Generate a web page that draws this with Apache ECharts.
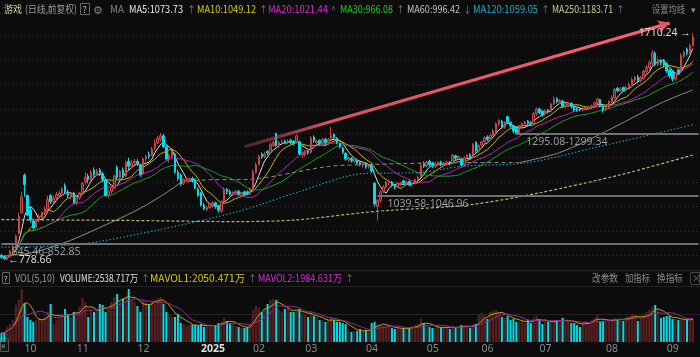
<!DOCTYPE html>
<html><head><meta charset="utf-8">
<script src="https://cdn.jsdelivr.net/npm/echarts@6/dist/echarts.min.js"></script>
<style>html,body{margin:0;padding:0;background:#0c0c0c;}#c{width:700px;height:357px;}</style>
</head><body><div id="c"></div>
<script>
// ---- trading calendar (categories) ----
const tradingDays = [
 ['2024-09',[19,20,23,24,25,26,27,30]],
 ['2024-10',[8,9,10,11,14,15,16,17,18,21,22,23,24,25,28,29,30,31]],
 ['2024-11',[1,4,5,6,7,8,11,12,13,14,15,18,19,20,21,22,25,26,27,28,29]],
 ['2024-12',[2,3,4,5,6,9,10,11,12,13,16,17,18,19,20,23,24,25,26,27,30,31]],
 ['2025-01',[2,3,6,7,8,9,10,13,14,15,16,17,20,21,22,23,24,27]],
 ['2025-02',[5,6,7,10,11,12,13,14,17,18,19,20,21,24,25,26,27,28]],
 ['2025-03',[3,4,5,6,7,10,11,12,13,14,17,18,19,20,21,24,25,26,27,28,31]],
 ['2025-04',[1,2,3,7,8,9,10,11,14,15,16,17,18,21,22,23,24,25,28,29,30]],
 ['2025-05',[6,7,8,9,12,13,14,15,16,19,20,21,22,23,26,27,28,29,30]],
 ['2025-06',[3,4,5,6,9,10,11,12,13,16,17,18,19,20,23,24,25,26,27,30]],
 ['2025-07',[1,2,3,4,7,8,9,10,11,14,15,16,17,18,21,22,23,24,25,28,29,30,31]],
 ['2025-08',[1,4,5,6,7,8,11,12,13,14,15,18,19,20,21,22,25,26,27,28,29]],
 ['2025-09',[1,2,3,4,5,8,9,10,11,12]]
];
// ---- daily candles: [open, close, low, high] ----
const ohlc = [
[800,792,785,805],[795,786,781,798],[784,792,778.66,796],[795,818,792,822],[820,835,815,848],
[838,880,832,885],[890,960,885,975],[975,1040,970,1060],[1128,1090,1040,1135],[1045,965,960,1050],
[985,945,935,1000],[940,912,905,950],[915,945,910,950],[945,960,935,968],[955,975,950,980],
[975,990,965,1000],[990,1030,985,1045],[1045,1020,1010,1050],[1020,1035,1012,1045],[1035,1050,1025,1060],
[1045,1055,1038,1065],[1055,1072,1050,1080],[1085,1060,1050,1095],[1060,1045,1035,1068],[1040,1050,1030,1058],
[1055,1015,1010,1060],[1015,1035,1005,1042],[1035,1055,1028,1060],[1055,1095,1052,1100],[1100,1120,1090,1140],
[1125,1110,1095,1135],[1110,1140,1105,1150],[1150,1130,1120,1160],[1130,1145,1125,1155],[1150,1135,1125,1158],
[1135,1110,1100,1140],[1110,1045,1040,1115],[1045,1060,1035,1070],[1060,1080,1050,1090],[1075,1125,1070,1130],
[1160,1120,1110,1168],[1118,1145,1110,1150],[1150,1130,1120,1160],[1125,1180,1120,1188],[1185,1165,1150,1200],
[1165,1180,1158,1190],[1180,1185,1170,1195],[1185,1175,1165,1195],[1170,1130,1122,1175],[1135,1195,1130,1200],
[1195,1205,1185,1212],[1212,1205,1195,1225],[1210,1235,1205,1245],[1240,1260,1230,1275],[1260,1280,1255,1290],
[1275,1290,1265,1302],[1290,1245,1240,1298],[1245,1195,1188,1250],[1195,1210,1180,1218],[1205,1225,1200,1232],
[1215,1140,1135,1220],[1140,1115,1105,1150],[1130,1092,1085,1135],[1095,1110,1088,1115],[1105,1112,1098,1118],
[1108,1114,1100,1120],[1115,1105,1098,1122],[1110,1075,1070,1115],[1072,1045,1040,1078],[1055,1005,1000,1060],
[1005,990,985,1015],[988,995,980,1002],[995,1012,990,1018],[1005,1015,995,1022],[1015,1000,990,1020],
[1000,985,975,1005],[980,1020,975,1025],[1022,1070,1018,1078],[1070,1060,1050,1076],[1062,1050,1045,1070],
[1050,1058,1042,1062],[1058,1060,1050,1068],[1062,1050,1045,1068],[1050,1055,1040,1060],[1060,1048,1042,1065],
[1060,1052,1045,1066],[1050,1072,1048,1078],[1080,1140,1075,1152],[1140,1170,1135,1180],[1172,1205,1168,1212],
[1215,1205,1195,1222],[1205,1215,1198,1225],[1225,1220,1210,1232],[1220,1255,1215,1262],[1250,1262,1245,1270],
[1300,1250,1245,1302],[1248,1262,1240,1268],[1260,1265,1250,1275],[1268,1262,1255,1275],[1262,1268,1255,1275],
[1270,1262,1255,1278],[1268,1258,1250,1272],[1262,1290,1258,1296],[1265,1215,1210,1270],[1212,1220,1200,1226],
[1215,1225,1205,1232],[1228,1220,1212,1232],[1222,1280,1218,1288],[1285,1270,1262,1292],[1262,1268,1255,1275],
[1270,1258,1250,1275],[1258,1275,1252,1280],[1275,1262,1250,1282],[1262,1275,1258,1282],[1278,1290,1270,1327],
[1295,1282,1275,1300],[1280,1262,1255,1285],[1258,1245,1238,1262],[1240,1222,1215,1245],[1218,1195,1188,1222],
[1192,1198,1182,1205],[1198,1188,1180,1202],[1185,1192,1178,1198],[1190,1178,1172,1195],[1180,1172,1165,1185],
[1170,1180,1160,1185],[1178,1162,1155,1182],[1162,1168,1155,1172],[1165,1145,1140,1170],[1095,1010,1000,1100],
[1000,1025,942,1030],[1025,1060,1015,1068],[1062,1080,1055,1088],[1080,1100,1075,1105],[1098,1105,1088,1110],
[1100,1085,1080,1105],[1085,1080,1070,1090],[1082,1095,1078,1100],[1092,1096,1085,1102],[1105,1095,1088,1110],
[1095,1100,1088,1106],[1102,1088,1082,1108],[1088,1095,1082,1100],[1095,1110,1090,1115],[1110,1120,1102,1126],
[1122,1168,1118,1180],[1175,1165,1158,1185],[1168,1182,1160,1188],[1185,1172,1165,1192],[1178,1165,1158,1183],
[1165,1172,1158,1178],[1170,1180,1165,1186],[1182,1170,1165,1188],[1170,1178,1162,1182],[1175,1182,1168,1188],
[1182,1175,1168,1186],[1178,1210,1175,1215],[1208,1198,1190,1212],[1198,1205,1192,1210],[1195,1170,1165,1200],
[1172,1200,1168,1205],[1200,1210,1195,1215],[1212,1200,1195,1218],[1200,1255,1198,1260],[1262,1228,1220,1268],
[1228,1250,1222,1255],[1252,1265,1245,1270],[1265,1282,1260,1288],[1285,1275,1268,1292],[1278,1292,1272,1298],
[1292,1310,1288,1318],[1305,1340,1300,1345],[1338,1352,1330,1358],[1350,1325,1318,1355],[1325,1345,1318,1350],
[1368,1345,1340,1372],[1345,1330,1322,1350],[1330,1310,1300,1335],[1320,1299,1295.08,1325],[1300,1330,1296,1335],
[1328,1340,1320,1345],[1338,1345,1330,1352],[1350,1340,1332,1355],[1345,1338,1330,1350],[1340,1380,1335,1388],
[1380,1400,1372,1406],[1400,1385,1378,1405],[1390,1375,1368,1395],[1378,1392,1372,1398],[1395,1388,1380,1400],
[1390,1420,1385,1425],[1420,1440,1415,1450],[1442,1430,1422,1448],[1430,1435,1420,1440],[1432,1410,1405,1438],
[1410,1418,1402,1424],[1415,1422,1408,1428],[1422,1410,1402,1428],[1410,1395,1388,1414],[1400,1395,1388,1405],
[1402,1396,1390,1408],[1396,1402,1390,1408],[1400,1405,1394,1410],[1402,1408,1396,1414],[1405,1412,1398,1418],
[1410,1425,1405,1430],[1422,1440,1418,1446],[1438,1412,1408,1442],[1410,1395,1385,1415],[1398,1405,1390,1410],
[1405,1430,1400,1435],[1428,1448,1422,1455],[1445,1480,1440,1486],[1485,1475,1468,1490],[1475,1482,1468,1490],
[1488,1475,1470,1492],[1478,1488,1472,1495],[1488,1500,1480,1508],[1495,1520,1490,1528],[1518,1530,1510,1536],
[1532,1515,1505,1540],[1515,1528,1508,1535],[1525,1555,1520,1560],[1552,1570,1545,1580],[1568,1590,1560,1598],
[1585,1630,1580,1641],[1628,1582,1575,1635],[1582,1600,1575,1608],[1600,1588,1578,1605],[1600,1580,1570,1605],
[1585,1555,1548,1592],[1560,1535,1525,1565],[1555,1522,1512,1560],[1522,1545,1515,1550],[1560,1548,1540,1565],
[1555,1620,1550,1628],[1615,1632,1608,1640],[1645,1630,1620,1652],[1632,1660,1625,1668],[1660,1695,1655,1710.24]
];
// ---- volume (万) ----
const volumes = [
720,800,1200,1440,1760,2960,3360,4240,3120,2000, 1760,1600,1760,1920,1840,2000,2400,3040,1440,1760,
1920,2240,2640,2240,1920,2400,2400,2800,3520,3200, 2000,2560,2400,2640,3040,2960,2400,2800,3200,3600,
3840,3200,3440,3600,4240,3360,3200,2880,2400,3360, 3200,3040,3200,3360,3520,3600,3040,2400,2160,2000,
2000,2240,1520,1440,1280,1360,1360,1360,1280,1440, 1200,1280,1360,1280,1360,1520,1600,1920,1680,1520,
1440,1280,1200,1120,1120,1200,1440,2560,2880,2720, 2400,2640,3040,3360,3440,3360,2560,2400,2640,2800,
2400,2400,2480,2640,2240,2160,2000,2400,2080,1920, 1760,1760,1600,1680,2000,1760,1600,1600,1520,1440,
960,800,880,880,1040,800,960,800,1520,1600, 1440,1360,1280,1280,1200,1120,1040,1120,1040,1120,
1120,1120,1280,1360,1440,1840,1520,1360,1200,1120, 1120,1200,1200,1120,1200,1040,1280,1200,1200,1360,
1280,1280,1120,1360,1440,2160,2320,2160,1840,2400, 2480,2560,2400,2000,1920,2080,1760,1840,1600,1600,
1680,1520,1760,1520,1920,2080,1760,1440,1600,1600, 1760,1680,1760,1680,1920,1600,1680,1520,1520,1360,
1200,1600,1680,1600,1760,1920,2160,1600,1680,1600, 1760,1840,1920,1840,1760,1680,2000,2080,2240,2160,
1680,1920,2160,2400,2560,2800,2960,2560,1920,2000, 2080,2080,1840,1840,1760,1760,1840,1760,1760,1920
];
// ---- long moving averages: [dayIndex, value] ----
const ma60Pts  = [[0,796],[11,812],[23,857],[34,914],[46,980],[55,1041],[62,1098],[73,1110],[83,1110],[113,1164],[127,1172],[162,1180],[179,1180],[193,1221],[210,1314],[228,1424],[239,1478]];
const ma60DashedRange = [62, 179];
const ma120Pts = [[0,833],[27,845],[55,906],[82,980],[102,1057],[125,1135],[144,1139],[159,1164],[182,1180],[205,1241],[239,1335]];
const ma250Pts = [[0,946],[41,943],[82,938],[102,945],[125,975],[134,984],[162,1007],[186,1056],[214,1130],[239,1211]];
// ---- annotation zones and trend arrow ----
const zones = [[1295.08,1299.34,178],[1039.58,1046.96,130],[845.46,852.85,0]];
const trendArrow = [[84,1245],[231,1752]];
const highPoint = [239, 1710.24];
const lowPoint = [2, 778.66];
// ---- header texts: [text, colour, left, right] ----
const header = [
 ['游戏','#d8cf9c',4,22],['(日线,前复权)','#9a9a9a',25,77],['MA','#858585',110,124],
 ['MA5:1073.73','#e6e6e6',129,183],['MA10:1049.12','#d4c800',197,256],['MA20:1021.44','#d828d8',268,328],
 ['MA30:966.08','#20c820',340,393],['MA60:996.42','#c4c4c4',407,460],['MA120:1059.05','#1ea8cc',473,538],
 ['MA250:1183.71','#cfc890',552,613],['设置均线','#8a8a8a',652,685]
];
const headerArrows = [['↑',187],['↑',259],['^',331],['↑',396],['↓',463],['↑',541],['↑',616]];
const volHeader = [
 ['VOL(5,10)','#9a9a9a',15,55],['VOLUME:2538.717万','#e0e0e0',60,138],['MAVOL1:2050.471万','#d4c800',150,245],
 ['MAVOL2:1984.631万','#d828d8',258,342],['改参数','#8a8a8a',592,618],['加指标','#8a8a8a',625,650],['换指标','#8a8a8a',657,683]
];
const volArrows = [['↑',141],['↑',248],['↑',345]];

// ---- build ----
const cats = [];
const monthTicks = new Map();
tradingDays.forEach(([ym, days], mi) => {
  days.forEach((d, k) => {
    if (k === 0 && mi > 0) {
      const [y, m] = ym.split('-');
      monthTicks.set(cats.length, m === '01' ? y : m);
    }
    cats.push(ym + '-' + String(d).padStart(2, '0'));
  });
});
const N = cats.length;
const axisCats = cats.concat(['', '']);
const closes = ohlc.map(r => r[1]);
function ma(arr, n) {
  return arr.map((_, i) => {
    const s = Math.max(0, i - n + 1); let sum = 0;
    for (let k = s; k <= i; k++) sum += arr[k];
    return +(sum / (i - s + 1)).toFixed(2);
  });
}
const upCandle = '#c84646', downCandle = '#00dde8';
const chart = echarts.init(document.getElementById('c'));
const maLine = (name, data, color, extra) => Object.assign({
  name, type: 'line', data, xAxisIndex: 0, yAxisIndex: 0, showSymbol: false, symbol: 'none', silent: true,
  lineStyle: { width: 1, color }, z: 3, animation: false
}, extra || {});
const zoneLines = zones.map(([lo, hi, start]) => {
  const mid = (lo + hi) / 2;
  return [{ coord: [start, mid], label: { formatter: lo.toFixed(2) + '-' + hi.toFixed(2) } }, { coord: [N + 1, mid] }];
});
const FONT = '"Noto Sans CJK SC", "Noto Sans", sans-serif';
const mctx = document.createElement('canvas').getContext('2d');
function fitText(text, fill, x0, x1, y, size) {
  const font = size + 'px ' + FONT;
  mctx.font = font;
  const w = mctx.measureText(text).width || 1;
  return { type: 'text', x: x0, y, scaleX: (x1 - x0) / w, silent: true, style: { text, fill, font, verticalAlign: 'middle' } };
}
const txt = (text, x, y, fill, size) => ({ type: 'text', x, y, silent: true, style: { text, fill, font: size + 'px ' + FONT, verticalAlign: 'middle' } });
const graphics = [
  { type: 'line', shape: { x1: 0, y1: 270.5, x2: 700, y2: 270.5 }, style: { stroke: '#262626', lineWidth: 1 }, silent: true },
  { type: 'rect', shape: { x: 80.5, y: 3.5, width: 9, height: 11 }, style: { fill: 'none', stroke: '#666' }, silent: true },
  txt('?', 82.5, 9.5, '#cfcfcf', 9),
  txt('⚙', 93, 9.5, '#808080', 11),
  txt('▾', 691, 9.5, '#8a8a8a', 9),
  { type: 'rect', shape: { x: 2.5, y: 272.5, width: 7, height: 11 }, style: { fill: 'none', stroke: '#666' }, silent: true },
  txt('?', 3.8, 278.5, '#cfcfcf', 8),
  { type: 'rect', shape: { x: 690.5, y: 272.5, width: 9, height: 12 }, style: { fill: 'none', stroke: '#444' }, silent: true },
  txt('×', 691.5, 278.5, '#666', 10),
  { type: 'rect', shape: { x: 0.5, y: 338.5, width: 8, height: 13 }, style: { fill: '#151515', stroke: '#555' }, silent: true },
  txt('«', 1, 345, '#9a9a9a', 10)
];
header.forEach(([t, c, x0, x1]) => graphics.push(fitText(t, c, x0, x1, 9.5, 10.5)));
headerArrows.forEach(([a, x]) => graphics.push(txt(a, x, 9.5, '#7a7a7a', 9)));
volHeader.forEach(([t, c, x0, x1]) => graphics.push(fitText(t, c, x0, x1, 278.5, 10.5)));
volArrows.forEach(([a, x]) => graphics.push(txt(a, x, 278.5, '#7a7a7a', 9)));

const ma60Solid = ma60Pts.map(([i, v]) => [i, (i <= ma60DashedRange[0] || i >= ma60DashedRange[1]) ? v : null]);
const ma60Dash = ma60Pts.map(([i, v]) => [i, (i >= ma60DashedRange[0] && i <= ma60DashedRange[1]) ? v : null]);

chart.setOption({
  backgroundColor: '#0c0c0c',
  animation: false,
  graphic: graphics,
  grid: [
    { left: 0, right: 0, top: 11.35, height: 268.3 },
    { left: 0, right: 0, top: 286, height: 56 }
  ],
  xAxis: [
    { type: 'category', gridIndex: 0, data: axisCats, boundaryGap: true, axisLine: { show: false }, axisTick: { show: false }, axisLabel: { show: false }, splitLine: { show: false } },
    { type: 'category', gridIndex: 1, data: axisCats, boundaryGap: true, axisLine: { show: false }, axisTick: { show: false }, splitLine: { show: false },
      axisLabel: { interval: (idx) => monthTicks.has(idx), formatter: (v, idx) => monthTicks.get(idx) === '2025' ? '{y|2025}' : monthTicks.get(idx),
        align: 'left', color: '#8a8a8a', fontSize: 10.5, margin: 2, fontFamily: '"Noto Sans", sans-serif',
        rich: { y: { color: '#e0e0e0', fontSize: 10.5, fontWeight: 'bold' } } } }
  ],
  yAxis: [
    { type: 'value', gridIndex: 0, min: 700, max: 1800, interval: 100, axisLabel: { show: false }, axisLine: { show: false }, axisTick: { show: false },
      splitLine: { show: true, showMinLine: false, showMaxLine: false, lineStyle: { color: '#232323', type: [2, 2] } } },
    { type: 'value', gridIndex: 1, min: 0, max: 4480, interval: 2240, axisLabel: { show: false }, axisLine: { show: false }, axisTick: { show: false },
      splitLine: { show: true, showMinLine: false, lineStyle: { color: '#232323' } } }
  ],
  series: [
    { name: 'K', type: 'candlestick', data: ohlc, xAxisIndex: 0, yAxisIndex: 0, barWidth: 2, z: 4,
      itemStyle: { color: '#6a2424', color0: downCandle, borderColor: upCandle, borderColor0: downCandle, borderWidth: 1 },
      markLine: { silent: true, symbol: 'none', animation: false,
        lineStyle: { color: '#707070', width: 2, type: 'solid' },
        label: { show: true, position: 'insideStartBottom', distance: [10, 3], color: '#9a9a9a', fontSize: 10.5, fontFamily: '"Noto Sans", sans-serif' },
        data: zoneLines },
      markPoint: { silent: true, symbol: 'circle', symbolSize: 0, animation: false,
        data: [
          { coord: highPoint, label: { show: true, position: 'left', distance: 2, formatter: highPoint[1].toFixed(2) + ' →', color: '#d8d8d8', fontSize: 10.5, fontFamily: '"Noto Sans", sans-serif' } },
          { coord: lowPoint, label: { show: true, position: 'right', distance: 1, formatter: '←' + lowPoint[1].toFixed(2), color: '#d8d8d8', fontSize: 10.5, fontFamily: '"Noto Sans", sans-serif' } }
        ] } },
    maLine('MA5', ma(closes, 5), '#dcdcdc'),
    maLine('MA10', ma(closes, 10), '#c9b800'),
    maLine('MA20', ma(closes, 20), '#b424b4'),
    maLine('MA30', ma(closes, 30), '#1c9a1c'),
    maLine('MA60', ma60Solid, '#8c8c8c', { smooth: 0.3, connectNulls: false }),
    maLine('MA60d', ma60Dash, '#8c8c8c', { smooth: 0.3, connectNulls: false, lineStyle: { width: 1, color: '#8c8c8c', type: [4, 3] } }),
    maLine('MA120', ma120Pts, '#1a98bc', { smooth: 0.3, lineStyle: { width: 1.2, color: '#1a98bc', type: [1.5, 2] } }),
    maLine('MA250', ma250Pts, '#bdb56e', { smooth: 0.3, lineStyle: { width: 1.2, color: '#bdb56e', type: [3, 2] } }),
    { name: 'trend', type: 'line', data: [], xAxisIndex: 0, yAxisIndex: 0, silent: true, z: 6,
      markLine: { silent: true, animation: false, symbol: ['none', 'arrow'], symbolSize: [10, 12],
        label: { show: false },
        lineStyle: { width: 3.2, type: 'solid', color: new echarts.graphic.LinearGradient(0, 0, 1, 0, [{ offset: 0, color: 'rgba(200,60,80,0.35)' }, { offset: 0.2, color: '#d85062' }, { offset: 1, color: '#ff6070' }]) },
        data: [[{ coord: trendArrow[0] }, { coord: trendArrow[1] }]] } },
    { name: 'VOL', type: 'bar', xAxisIndex: 1, yAxisIndex: 1, barWidth: 2, z: 2,
      data: volumes.map((v, i) => ({ value: v, itemStyle: ohlc[i][1] >= ohlc[i][0] ? { color: '#4e1c1c', borderColor: '#7a2c2c', borderWidth: 0.5 } : { color: '#00dde8' } })) },
    { name: 'MAVOL1', type: 'line', xAxisIndex: 1, yAxisIndex: 1, data: ma(volumes, 5), showSymbol: false, silent: true, z: 3, lineStyle: { width: 1, color: '#b8a800' } },
    { name: 'MAVOL2', type: 'line', xAxisIndex: 1, yAxisIndex: 1, data: ma(volumes, 10), showSymbol: false, silent: true, z: 3, lineStyle: { width: 1, color: '#a020a0' } }
  ]
});
</script></body></html>
